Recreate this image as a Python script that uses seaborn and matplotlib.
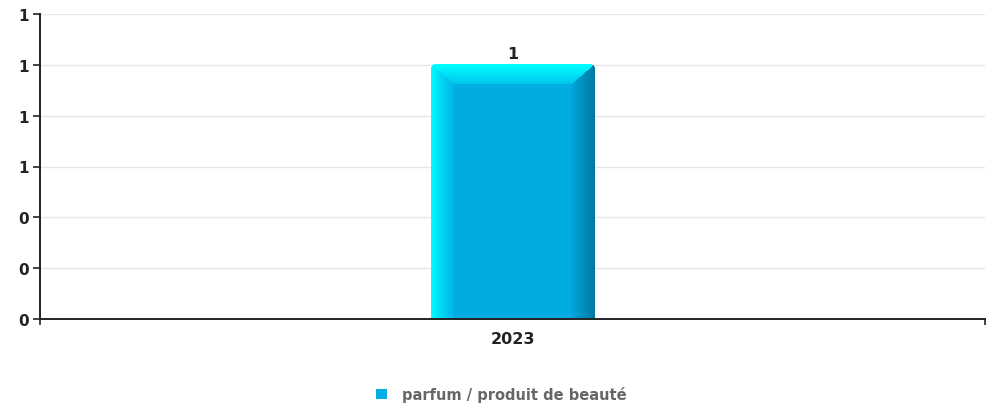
import numpy as np
import pandas as pd
import matplotlib
matplotlib.use("Agg")
import matplotlib.pyplot as plt
import seaborn as sns
from matplotlib.patches import Patch

# ---- data ----
categories = ["2023"]
values = [1]
series_name = "parfum / produit de beauté"
yticks = [0, 0.2, 0.4, 0.6, 0.8, 1.0, 1.2]
ytick_labels = ["0", "0", "0", "1", "1", "1", "1"]

sns.set_theme(style="white")
plt.rcParams['font.family'] = ['DejaVu Sans']

fig = plt.figure(figsize=(9.91, 4.06), dpi=100)
ax = fig.add_axes([40/991, 1-320/406, (985-40)/991, (320-15)/406])

df = pd.DataFrame({"year": categories, "value": values})
main_color = "#00ACE2"
sns.barplot(data=df, x="year", y="value", color=main_color, width=0.1725,
            saturation=1, ax=ax, edgecolor="none", linewidth=0)

ax.set_xlim(-0.5, 0.5)
ax.set_ylim(0, 1.2)
ax.set_xlabel("")
ax.set_ylabel("")

# y axis
ax.set_yticks(yticks)
ax.set_yticklabels(ytick_labels, fontsize=11, fontweight="bold", color="#222222")
ax.tick_params(axis="y", length=5, width=1.2, color="#222222", direction="out", pad=3, left=True)
for y in yticks[1:]:
    ax.axhline(y, color="#e6e6e6", lw=1, zorder=0)

# x axis
ax.set_xticks([0])
ax.set_xticklabels(categories, fontsize=11.5, fontweight="bold", color="#222222")
ax.tick_params(axis="x", length=0, pad=9)
ax.set_xticks([-0.5, 0.5], minor=True)
ax.tick_params(axis="x", which="minor", length=4, width=1.2, color="#222222", direction="out", bottom=True)

for s in ["top", "right"]:
    ax.spines[s].set_visible(False)
for s in ["left", "bottom"]:
    ax.spines[s].set_color("#222222")
    ax.spines[s].set_linewidth(1.4)

# bevel shading on the bar, derived from the bar's own geometry
fig.canvas.draw()
for bar in ax.patches:
    x0, w, h = bar.get_x(), bar.get_width(), bar.get_height()
    p0 = ax.transData.transform((x0, 0))
    p1 = ax.transData.transform((x0 + w, h))
    pw = int(round(p1[0] - p0[0]))
    ph = int(round(p1[1] - p0[1]))
    xs = np.arange(pw) + 0.5
    ys = np.arange(ph) + 0.5
    X, Y = np.meshgrid(xs, ys)
    bw = 23.0
    bh = 20.0
    base = np.array([0, 172, 226]) / 255
    img = np.zeros((ph, pw, 4))
    img[..., :3] = base
    img[..., 3] = 1
    cyan = np.array([0, 255, 255]) / 255
    left_in = np.array([0, 180, 232]) / 255
    right_in = np.array([0, 166, 220]) / 255
    right_edge = np.array([0, 120, 160]) / 255
    top_in = np.array([0, 198, 238]) / 255
    nl = X / bw
    nr = (pw - X) / bw
    nt = Y / bh
    top_mask = (nt < 1) & (nt <= nl) & (nt <= nr)
    left_mask = (nl < 1) & (nl < nt) & (nl <= nr)
    right_mask = (nr < 1) & (nr < nt) & (nr < nl)
    t = np.clip(nt, 0, 1)[..., None]
    img[..., :3] = np.where(top_mask[..., None], cyan * (1 - t) + top_in * t, img[..., :3])
    t = np.clip(nl, 0, 1)[..., None] ** 0.8
    img[..., :3] = np.where(left_mask[..., None], cyan * (1 - t) + left_in * t, img[..., :3])
    t = np.clip(nr, 0, 1)[..., None]
    img[..., :3] = np.where(right_mask[..., None], right_edge * (1 - t) + right_in * t, img[..., :3])
    # rounded top corners
    r = 5.0
    dist_l = np.hypot(X - r, Y - r)
    dist_r = np.hypot(X - (pw - r), Y - r)
    cut = ((X < r) & (Y < r) & (dist_l > r)) | ((X > pw - r) & (Y < r) & (dist_r > r))
    img[..., 3] = np.where(cut, 0, img[..., 3])
    bar.set_visible(False)
    ax.imshow(img, extent=(x0, x0 + w, 0, h), aspect="auto", zorder=bar.get_zorder() + 0.1,
              interpolation="bilinear")
    ax.set_xlim(-0.5, 0.5)
    ax.set_ylim(0, 1.2)
    ax.annotate(f"{h:g}", (x0 + w / 2, h), xytext=(0, 3), textcoords="offset points",
                ha="center", va="bottom", fontsize=11.5, fontweight="bold", color="#222222")

# legend
leg = fig.legend(handles=[Patch(facecolor=main_color, edgecolor="none", label=series_name)],
                 loc="center", bbox_to_anchor=(501.5/991, 1-395/406), frameon=False,
                 handlelength=0.75, handleheight=0.75, handletextpad=1.0,
                 prop={"size": 10.5, "weight": "bold"})
for txt in leg.get_texts():
    txt.set_color("#666666")

fig.savefig("out.png", dpi=100)
